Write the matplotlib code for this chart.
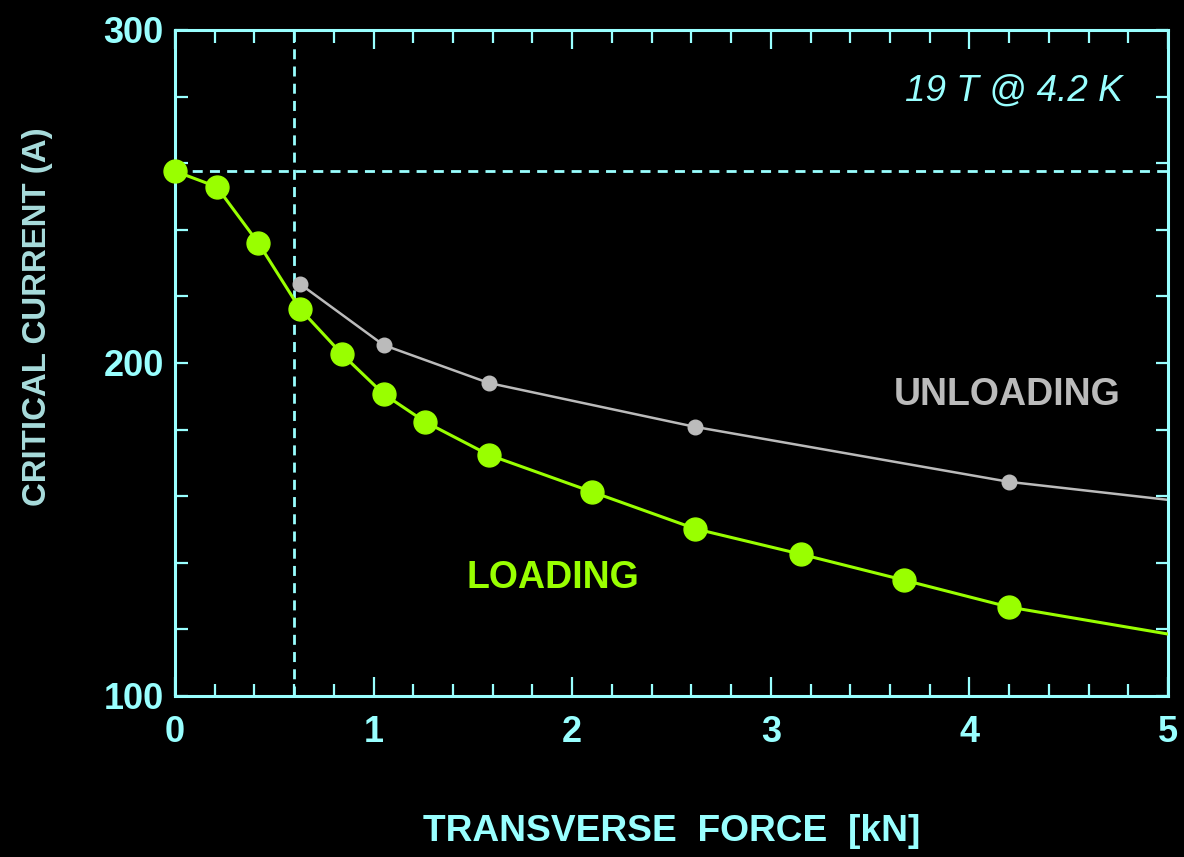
import numpy as np
import matplotlib
matplotlib.use('Agg')
import matplotlib.pyplot as plt
from matplotlib.ticker import MultipleLocator

# data
load_force = [0.0, 0.21, 0.42, 0.63, 0.84, 1.05, 1.26, 1.58, 2.10, 2.62, 3.15, 3.67, 4.20]
load_ic = [257.6, 252.9, 236.0, 216.2, 202.7, 190.7, 182.3, 172.4, 161.3, 150.2, 142.6, 134.8, 126.7]
load_tail = (5.0, 118.6)   # line carries on past last point, no marker

unload_force = [0.63, 1.05, 1.58, 2.62, 4.20]
unload_ic = [223.7, 205.4, 194.0, 180.8, 164.3]
unload_tail = (5.0, 158.9)

ic_zero = 257.6     # horizontal reference
force_ref = 0.6     # vertical reference

CYAN = '#99ffff'
GREEN = '#99ff00'
GRAY = '#bbbbbb'

plt.rcParams['font.family'] = ['Liberation Sans', 'DejaVu Sans']

fig = plt.figure(figsize=(11.84, 8.57), dpi=100, facecolor='black')
ax = fig.add_axes([0.1478, 0.1879, 0.8387, 0.7771], facecolor='black')

ax.axhline(ic_zero, color=CYAN, lw=2.0, ls=(0, (3.6, 2.6)), zorder=1)
ax.axvline(force_ref, color=CYAN, lw=2.0, ls=(0, (3.6, 2.6)), zorder=1)

ax.plot(unload_force + [unload_tail[0]], unload_ic + [unload_tail[1]],
        color=GRAY, lw=1.8, zorder=2)
ax.plot(unload_force, unload_ic, 'o', color=GRAY, ms=10.5, zorder=3)

ax.plot(load_force + [load_tail[0]], load_ic + [load_tail[1]],
        color=GREEN, lw=2.2, zorder=4)
ax.plot(load_force, load_ic, 'o', color=GREEN, ms=16.5, zorder=5, clip_on=False)

ax.set_xlim(0, 5)
ax.set_ylim(100, 300)
ax.xaxis.set_major_locator(MultipleLocator(1))
ax.xaxis.set_minor_locator(MultipleLocator(0.2))
ax.yaxis.set_major_locator(MultipleLocator(100))
ax.yaxis.set_minor_locator(MultipleLocator(20))

for s in ax.spines.values():
    s.set_color(CYAN)
    s.set_linewidth(2.2)

ax.tick_params(which='both', direction='in', top=True, right=True,
               color=CYAN, labelcolor=CYAN, width=1.6)
ax.tick_params(axis='x', which='major', length=14, pad=14)
ax.tick_params(axis='x', which='minor', length=9)
ax.tick_params(axis='y', which='both', length=9, pad=8)
for lab in ax.get_xticklabels() + ax.get_yticklabels():
    lab.set_fontsize(26)
    lab.set_fontweight('bold')

ax.set_xlabel('TRANSVERSE  FORCE  [kN]', color=CYAN, fontsize=26.7,
              fontweight='bold', labelpad=46)
ax.set_ylabel('CRITICAL CURRENT (A)', color='#a8dcdc', fontsize=23.8,
              fontweight='bold')
ax.yaxis.set_label_coords(-0.123, 0.569)

ax.text(4.77, 281.5, '19 T @ 4.2 K', color=CYAN, fontsize=26.6,
        style='italic', ha='right', va='center')
ax.text(4.76, 190.5, 'UNLOADING', color=GRAY, fontsize=27,
        fontweight='bold', ha='right', va='center')
ax.text(2.34, 135.5, 'LOADING', color=GREEN, fontsize=27,
        fontweight='bold', ha='right', va='center')

plt.savefig('out.png', dpi=100, facecolor='black')
